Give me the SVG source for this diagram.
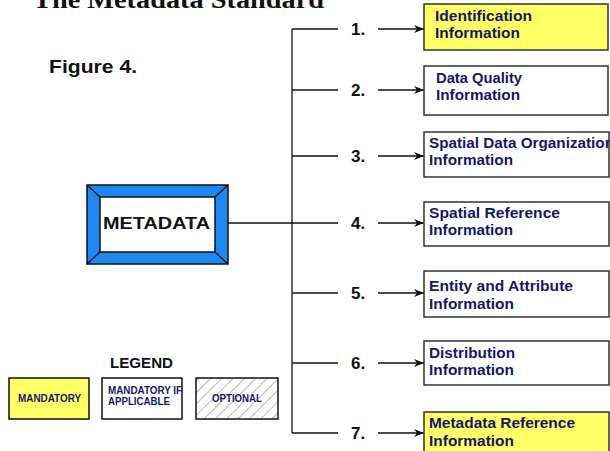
<svg xmlns="http://www.w3.org/2000/svg" width="610" height="451" viewBox="0 0 610 451">
<style>
.ln{stroke:#111;stroke-width:1.3;fill:none}
.box{stroke:#333;stroke-width:1.5}
.y{fill:#ffff66}
.w{fill:#ffffff}
.bt{font-family:"Liberation Sans",Arial,sans-serif;font-weight:bold;font-size:14px;fill:#161668}
.num{font-family:"Liberation Sans",Arial,sans-serif;font-weight:bold;font-size:17px;fill:#111}
.lg{font-family:"Liberation Sans",Arial,sans-serif;font-weight:bold;font-size:10px;fill:#161668}
</style>
<defs>
<marker id="ah" markerWidth="10" markerHeight="8" refX="10" refY="4" orient="auto" markerUnits="userSpaceOnUse">
<path d="M0,0 L10,4 L0,8 L3,4 Z" fill="#111"/>
</marker>
<pattern id="hatch" width="8" height="8" patternUnits="userSpaceOnUse" patternTransform="rotate(45)">
<rect width="8" height="8" fill="#fff"/>
<line x1="0" y1="0" x2="0" y2="8" stroke="#999" stroke-width="1.4"/>
</pattern>
</defs>
<rect width="610" height="451" fill="#fff"/>
<text x="33" y="8" font-family="Liberation Serif,serif" font-weight="bold" font-size="25" fill="#111" textLength="291" lengthAdjust="spacingAndGlyphs">The Metadata Standard</text>
<text x="49" y="73" font-family="Liberation Sans,Arial,sans-serif" font-weight="bold" font-size="19" fill="#111" textLength="88" lengthAdjust="spacingAndGlyphs">Figure 4.</text>

<g id="connectors">
<line class="ln" x1="292" y1="29" x2="292" y2="433"/>
<line class="ln" x1="228" y1="223" x2="292" y2="223"/>
<line class="ln" x1="292" y1="29" x2="338" y2="29"/>
<line class="ln" x1="292" y1="90" x2="338" y2="90"/>
<line class="ln" x1="292" y1="156" x2="338" y2="156"/>
<line class="ln" x1="292" y1="223" x2="338" y2="223"/>
<line class="ln" x1="292" y1="293" x2="338" y2="293"/>
<line class="ln" x1="292" y1="363" x2="338" y2="363"/>
<line class="ln" x1="292" y1="433" x2="338" y2="433"/>
<line class="ln" x1="378" y1="29" x2="424" y2="29" marker-end="url(#ah)"/>
<line class="ln" x1="378" y1="90" x2="424" y2="90" marker-end="url(#ah)"/>
<line class="ln" x1="378" y1="156" x2="424" y2="156" marker-end="url(#ah)"/>
<line class="ln" x1="378" y1="223" x2="424" y2="223" marker-end="url(#ah)"/>
<line class="ln" x1="378" y1="293" x2="424" y2="293" marker-end="url(#ah)"/>
<line class="ln" x1="378" y1="363" x2="424" y2="363" marker-end="url(#ah)"/>
<line class="ln" x1="378" y1="433" x2="424" y2="433" marker-end="url(#ah)"/>
<text class="num" x="351" y="35">1.</text>
<text class="num" x="351" y="96">2.</text>
<text class="num" x="351" y="162">3.</text>
<text class="num" x="351" y="229">4.</text>
<text class="num" x="351" y="299">5.</text>
<text class="num" x="351" y="369">6.</text>
<text class="num" x="351" y="439">7.</text>
</g>

<g id="metadata">
<rect x="87" y="185" width="141" height="79" fill="#1e88f0" stroke="#111" stroke-width="1.5"/>
<rect x="100" y="197" width="115" height="55" fill="#fff" stroke="#111" stroke-width="1.5"/>
<path d="M87,185 L100,197 M228,185 L215,197 M87,264 L100,252 M228,264 L215,252" stroke="#111" stroke-width="1.2"/>
<text x="103" y="229" font-family="Liberation Sans,Arial,sans-serif" font-weight="bold" font-size="17" fill="#111" textLength="107" lengthAdjust="spacingAndGlyphs">METADATA</text>
</g>

<g id="n1">
<rect class="box y" x="424" y="4" width="184" height="46"/>
<text class="bt" x="435" y="21" textLength="97" lengthAdjust="spacingAndGlyphs">Identification</text>
<text class="bt" x="435" y="38" textLength="85" lengthAdjust="spacingAndGlyphs">Information</text>
</g>
<g id="n2">
<rect class="box w" x="424" y="66" width="184" height="49"/>
<text class="bt" x="436" y="83" textLength="86" lengthAdjust="spacingAndGlyphs">Data Quality</text>
<text class="bt" x="436" y="100" textLength="84" lengthAdjust="spacingAndGlyphs">Information</text>
</g>
<g id="n3">
<rect class="box w" x="424" y="132" width="185" height="45"/>
<text class="bt" x="429" y="148" textLength="185" lengthAdjust="spacingAndGlyphs">Spatial Data Organization</text>
<text class="bt" x="429" y="165" textLength="84" lengthAdjust="spacingAndGlyphs">Information</text>
</g>
<g id="n4">
<rect class="box w" x="424" y="202" width="185" height="44"/>
<text class="bt" x="429" y="218" textLength="131" lengthAdjust="spacingAndGlyphs">Spatial Reference</text>
<text class="bt" x="429" y="235" textLength="84" lengthAdjust="spacingAndGlyphs">Information</text>
</g>
<g id="n5">
<rect class="box w" x="424" y="271" width="185" height="46"/>
<text class="bt" x="429" y="291" textLength="144" lengthAdjust="spacingAndGlyphs">Entity and Attribute</text>
<text class="bt" x="429" y="309" textLength="85" lengthAdjust="spacingAndGlyphs">Information</text>
</g>
<g id="n6">
<rect class="box w" x="424" y="341" width="185" height="44"/>
<text class="bt" x="429" y="358" textLength="86" lengthAdjust="spacingAndGlyphs">Distribution</text>
<text class="bt" x="429" y="375" textLength="85" lengthAdjust="spacingAndGlyphs">Information</text>
</g>
<g id="n7">
<rect class="box y" x="424" y="412" width="185" height="50"/>
<text class="bt" x="429" y="428" textLength="146" lengthAdjust="spacingAndGlyphs">Metadata Reference</text>
<text class="bt" x="429" y="446" textLength="85" lengthAdjust="spacingAndGlyphs">Information</text>
</g>

<g id="legend">
<text x="110" y="368" font-family="Liberation Sans,Arial,sans-serif" font-weight="bold" font-size="14" fill="#111" textLength="63" lengthAdjust="spacingAndGlyphs">LEGEND</text>
<rect x="9" y="378" width="80" height="41" fill="#ffff66" stroke="#111" stroke-width="1.5"/>
<text class="lg" x="18" y="402" textLength="63" lengthAdjust="spacingAndGlyphs">MANDATORY</text>
<rect x="102" y="378" width="80" height="41" fill="#fff" stroke="#111" stroke-width="1.5"/>
<text class="lg" x="108" y="394" textLength="74" lengthAdjust="spacingAndGlyphs">MANDATORY IF</text>
<text class="lg" x="108" y="405" textLength="62" lengthAdjust="spacingAndGlyphs">APPLICABLE</text>
<rect x="196" y="378" width="82" height="41" fill="url(#hatch)" stroke="#111" stroke-width="1.5"/>
<text class="lg" x="212" y="402" textLength="50" lengthAdjust="spacingAndGlyphs">OPTIONAL</text>
</g>
</svg>
